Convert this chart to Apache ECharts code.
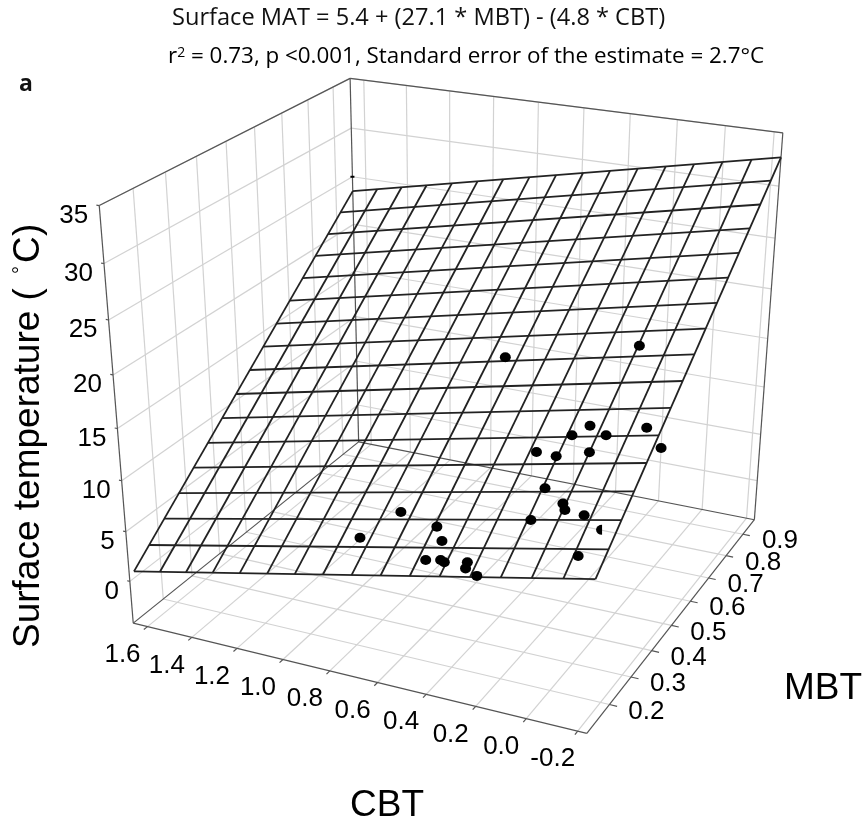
<!DOCTYPE html>
<html><head><meta charset="utf-8">
<style>html,body{margin:0;padding:0;background:#fff}#c{width:866px;height:827px}</style>
<script src="https://cdn.jsdelivr.net/npm/echarts@6/dist/echarts.min.js"></script>
</head><body><div id="c"></div>
<script>
var cbtTicks=[1.6,1.4,1.2,1.0,0.8,0.6,0.4,0.2,0.0,-0.2];
var mbtTicks=[0.2,0.3,0.4,0.5,0.6,0.7,0.8,0.9];
var tempTicks=[0,5,10,15,20,25,30,35];
var cMax=1.665,cMin=-0.235,mMin=0.10,mMax=0.97,zMin=-4.3,zMax=35;
var dotCbt=[0.596,0.052,0.104,0.159,0.022,-0.125,-0.215,0.272,0.184,0.058,0.169,0.070,0.051,-0.033,0.167,-0.080,0.533,0.483,0.512,0.451,0.432,0.340,0.335,0.277,0.713,0.831];
var dotMbt=[0.618,0.633,0.469,0.450,0.449,0.463,0.423,0.418,0.409,0.416,0.346,0.316,0.304,0.294,0.285,0.218,0.271,0.243,0.207,0.207,0.203,0.204,0.192,0.179,0.299,0.248];
var dotTemp=[16.28,19.30,14.61,13.84,14.47,15.55,14.88,12.41,12.59,13.39,10.96,10.63,10.39,10.52,9.31,8.70,7.18,6.68,5.55,5.85,5.83,6.29,6.01,5.91,7.09,5.14];
var clippedDot=[-0.115,0.267,10.18];
var hiddenDot=[1.665,0.97,25];
var meshCbt=[1.665,1.546,1.428,1.309,1.19,1.071,0.953,0.834,0.715,0.596,0.478,0.359,0.24,0.121,0.003,-0.116,-0.235];
var meshMbt=[0.115,0.168,0.222,0.275,0.329,0.382,0.436,0.489,0.543,0.596,0.649,0.703,0.756,0.81,0.863,0.917,0.97];
var surfAtMbtMin=[0.65,1.23,1.80,2.38,2.95,3.53,4.10,4.68,5.25,5.83,6.40,6.98,7.55,8.13,8.70,9.28,9.85];
var surfAtMbtMax=[23.50,24.08,24.65,25.23,25.80,26.38,26.95,27.53,28.10,28.68,29.25,29.83,30.40,30.98,31.55,32.13,32.70];
var surfAtCbtMax=[0.65,2.08,3.51,4.93,6.36,7.79,9.22,10.65,12.08,13.5,14.93,16.36,17.79,19.22,20.64,22.07,23.5];
var surfAtCbtMin=[9.85,11.28,12.71,14.13,15.56,16.99,18.42,19.85,21.28,22.7,24.13,25.56,26.99,28.42,29.84,31.27,32.7];
var anchors=[
[cMin,mMin,zMin,587.7,731.7],[cMax,mMin,zMin,133.3,622.7],[cMin,mMax,zMin,755.3,518.3],[cMax,mMax,zMin,358,442],
[cMax,mMin,zMax,100.7,206],[cMin,mMax,zMax,782.7,132.3],[cMax,mMax,zMax,351,79],
[cMax,mMin,0,130,580],[cMax,mMin,10,120,480.7],[cMax,mMin,30,102,263],
[0.6,mMin,zMin,378,684],[1.2,mMin,zMin,239,649],[cMin,0.5,zMin,669,628]];
function solve(A,b){var n=b.length;for(var i=0;i<n;i++){var p=i;for(var r=i+1;r<n;r++)if(Math.abs(A[r][i])>Math.abs(A[p][i]))p=r;
var t=A[i];A[i]=A[p];A[p]=t;t=b[i];b[i]=b[p];b[p]=t;
for(r=i+1;r<n;r++){var f=A[r][i]/A[i][i];for(var k=i;k<n;k++)A[r][k]-=f*A[i][k];b[r]-=f*b[i];}}
var x=[];for(i=n-1;i>=0;i--){var s=b[i];for(k=i+1;k<n;k++)s-=A[i][k]*x[k];x[i]=s/A[i][i];}return x;}
function fit(){var N=[],B=[],i,j;for(i=0;i<11;i++){N.push(new Array(11).fill(0));B.push(0);}
anchors.forEach(function(a){var X=a[0],Y=a[1],Z=a[2],u=a[3],v=a[4];
[[X,Y,Z,1,0,0,0,0,-u*X,-u*Y,-u*Z,u],[0,0,0,0,X,Y,Z,1,-v*X,-v*Y,-v*Z,v]].forEach(function(r){
for(i=0;i<11;i++){for(j=0;j<11;j++)N[i][j]+=r[i]*r[j];B[i]+=r[i]*r[11];}});});return solve(N,B);}
var P=fit();
function proj(c,m,z){var w=P[8]*c+P[9]*m+P[10]*z+1;return [(P[0]*c+P[1]*m+P[2]*z+P[3])/w,(P[4]*c+P[5]*m+P[6]*z+P[7])/w];}
function seg(a,b){return {coords:[proj(a[0],a[1],a[2]),proj(b[0],b[1],b[2])]};}
var gridSegs=[];
mbtTicks.forEach(function(m){gridSegs.push(seg([cMin,m,zMin],[cMax,m,zMin]),seg([cMax,m,zMin],[cMax,m,zMax]));});
cbtTicks.forEach(function(c){gridSegs.push(seg([c,mMin,zMin],[c,mMax,zMin]),seg([c,mMax,zMin],[c,mMax,zMax]));});
tempTicks.forEach(function(z){gridSegs.push(seg([cMax,mMin,z],[cMax,mMax,z]),seg([cMax,mMax,z],[cMin,mMax,z]));});
var boxSegs=[seg([cMin,mMin,zMin],[cMax,mMin,zMin]),seg([cMin,mMin,zMin],[cMin,mMax,zMin]),seg([cMax,mMax,zMin],[cMax,mMin,zMin]),seg([cMax,mMax,zMin],[cMin,mMax,zMin]),
seg([cMax,mMin,zMin],[cMax,mMin,zMax]),seg([cMin,mMax,zMin],[cMin,mMax,zMax]),seg([cMax,mMax,zMin],[cMax,mMax,zMax]),seg([cMax,mMin,zMax],[cMax,mMax,zMax]),seg([cMax,mMax,zMax],[cMin,mMax,zMax])];
cbtTicks.forEach(function(c){boxSegs.push(seg([c,mMin,zMin],[c,mMin-0.012,zMin]));});
mbtTicks.forEach(function(m){boxSegs.push(seg([cMin,m,zMin],[cMin-0.03,m,zMin]));});
tempTicks.forEach(function(z){boxSegs.push(seg([cMax,mMin,z],[cMax+0.012,mMin,z]));});
var meshSegs=[];
meshCbt.forEach(function(c,i){meshSegs.push(seg([c,meshMbt[0],surfAtMbtMin[i]],[c,meshMbt[16],surfAtMbtMax[i]]));});
meshMbt.forEach(function(m,i){meshSegs.push(seg([cMax,m,surfAtCbtMax[i]],[cMin,m,surfAtCbtMin[i]]));});
function tickSeries(pts,lab){return {type:'scatter',symbolSize:0,silent:true,z:6,data:pts,label:lab};}
var tickFont={show:true,fontFamily:'Liberation Sans',fontSize:26,color:'#000',opacity:1};
var chart=echarts.init(document.getElementById('c'),null,{renderer:'canvas'});
var cal='"Open Sans", sans-serif';
chart.setOption({animation:false,backgroundColor:'#fff',
grid:{left:0,right:0,top:0,bottom:0},
xAxis:{type:'value',min:0,max:866,show:false},
yAxis:{type:'value',min:0,max:827,inverse:true,show:false},
graphic:[
{type:'text',x:172,y:18,style:{text:'Surface MAT = 5.4 + (27.1 * MBT) - (4.8 * CBT)',font:'23.6px '+cal,fill:'#111',verticalAlign:'middle'}},
{type:'text',x:168,y:46,style:{text:'{a|r}{s|2}{a| = 0.73, p <0.001, Standard error of the estimate = 2.7°C}',rich:{a:{font:'22.4px '+cal,color:'#111'},s:{font:'14px '+cal,color:'#111',verticalAlign:'top',padding:[0,0,8,0]}}}},
{type:'text',x:19,y:73,style:{text:'a',font:'bold 23px '+cal,fill:'#111'}},
{type:'text',x:29,y:648,rotation:Math.PI/2,style:{text:'Surface temperature (',font:'37px "Liberation Sans"',fill:'#000',align:'left',verticalAlign:'middle'}},
{type:'text',x:21.6,y:270,rotation:Math.PI/2,style:{text:'°',font:'20px "Liberation Sans"',fill:'#000',align:'center',verticalAlign:'middle'}},
{type:'text',x:29,y:263,rotation:Math.PI/2,style:{text:'C',font:'37px "Liberation Sans"',fill:'#000',align:'left',verticalAlign:'middle'}},
{type:'text',x:29,y:236,rotation:Math.PI/2,style:{text:')',font:'37px "Liberation Sans"',fill:'#000',align:'left',verticalAlign:'middle'}},
{type:'text',x:387,y:806,style:{text:'CBT',font:'37px "Liberation Sans"',fill:'#000',align:'center',verticalAlign:'middle'}},
{type:'text',x:823,y:689,style:{text:'MBT',font:'37px "Liberation Sans"',fill:'#000',align:'center',verticalAlign:'middle'}}
],
series:[
{type:'lines',coordinateSystem:'cartesian2d',silent:true,z:1,lineStyle:{color:'#d2d2d2',width:1.2,opacity:1},data:gridSegs},
{type:'lines',coordinateSystem:'cartesian2d',silent:true,z:2,lineStyle:{color:'#555',width:1.2,opacity:1},data:boxSegs},
{type:'lines',coordinateSystem:'cartesian2d',silent:true,z:3,lineStyle:{color:'#222',width:1.8,opacity:1},data:meshSegs},
{type:'scatter',silent:true,z:4,symbol:'circle',symbolSize:[11,10],itemStyle:{color:'#000',opacity:1},data:dotCbt.map(function(c,i){return proj(c,dotMbt[i],dotTemp[i]);})},
{type:'scatter',silent:true,z:4,symbol:'path://M10 0A10 10 0 0 0 10 20Z',symbolKeepAspect:false,symbolSize:[6,10],itemStyle:{color:'#000',opacity:1},data:[proj(clippedDot[0],clippedDot[1],clippedDot[2])]},
{type:'scatter',silent:true,z:4,symbol:'rect',symbolSize:[4,2],itemStyle:{color:'#000',opacity:1},data:[proj(hiddenDot[0],hiddenDot[1],hiddenDot[2])]},
tickSeries(cbtTicks.map(function(c){var p=proj(c,mMin,zMin);return {value:p,name:c.toFixed(1)};}),Object.assign({},tickFont,{position:'inside',offset:[-25,28],formatter:'{b}'})),
tickSeries(mbtTicks.map(function(m){var p=proj(cMin,m,zMin);return {value:p,name:m.toFixed(1)};}),Object.assign({},tickFont,{position:'inside',offset:[37,7],formatter:'{b}'})),
tickSeries(tempTicks.map(function(z){var p=proj(cMax,mMin,z);return {value:p,name:String(z)};}),Object.assign({},tickFont,{position:'left',distance:11,offset:[0,10],formatter:'{b}'}))
]});
</script></body></html>
